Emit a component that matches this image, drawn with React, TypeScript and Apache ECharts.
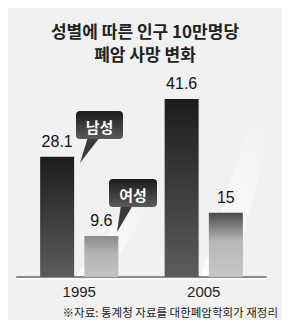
import React, { useEffect, useRef } from "react";
import * as echarts from "echarts";

const categories = ["1995", "2005"];
const maleValues = [28.1, 41.6];
const femaleValues = [9.6, 15];
const titleLines = ["성별에 따른 인구 10만명당", "폐암 사망 변화"];
const sourceText = "※자료: 통계청 자료를 대한폐암학회가 재정리";
const maleName = "남성";
const femaleName = "여성";

const LATIN = "'Liberation Sans', Arial, 'Noto Sans CJK KR', sans-serif";
const KR = "'Noto Sans CJK KR', 'Noto Sans', sans-serif";

function grad(stops: [number, string][]) {
  return new echarts.graphic.LinearGradient(
    0, 0, 0, 1,
    stops.map(([offset, color]) => ({ offset, color }))
  );
}

export default function App() {
  const ref = useRef<HTMLDivElement>(null);
  useEffect(() => {
    if (!ref.current) return;
    const chart = echarts.init(ref.current, null, { renderer: "svg" });
    const femaleColors = [
      grad([[0, "#8a8a8a"], [0.45, "#b4b4b4"], [1, "#c2c2c2"]]),
      grad([[0, "#4a4a4a"], [0.45, "#b8b8b8"], [1, "#c6c6c6"]]),
    ];
    const bubble = (
      x: number, y: number, w: number, h: number,
      tail: number[][], text: string
    ) => ({
      type: "group",
      z: 100,
      children: [
        {
          type: "polygon",
          shape: { points: tail },
          style: { fill: "#3a3a3a" },
        },
        {
          type: "rect",
          shape: { x, y, width: w, height: h, r: 4 },
          style: { fill: grad([[0, "#1c1c1c"], [1, "#5a5a5a"]]) },
        },
        {
          type: "text",
          x: x + w / 2,
          y: y + h / 2 + 1,
          style: {
            text,
            fill: "#ffffff",
            font: `bold 15px ${KR}`,
            align: "center",
            verticalAlign: "middle",
          },
        },
      ],
    });
    const titleTexts = titleLines.map((t, i) => ({
      type: "text",
      x: 145,
      y: 30 + i * 23,
      style: {
        text: t,
        font: `bold 17px ${KR}`,
        fill: "#222",
        align: "center",
        verticalAlign: "middle",
      },
    }));
    chart.setOption({
      animation: false,
      backgroundColor: "#efefef",
      grid: { left: 17, right: 24, top: 63, bottom: 51 },
      xAxis: {
        type: "category",
        data: categories,
        axisTick: { show: false },
        axisLine: { lineStyle: { color: "#8a8a8a", width: 2 } },
        axisLabel: {
          color: "#222",
          fontSize: 15,
          fontFamily: LATIN,
          margin: 7,
        },
      },
      yAxis: {
        type: "value",
        min: 0,
        max: 50,
        show: false,
        splitLine: { show: false },
      },
      series: [
        {
          type: "bar",
          name: maleName,
          data: maleValues,
          barWidth: 34,
          barGap: "30%",
          itemStyle: { color: grad([[0, "#1c1c1c"], [1, "#5c5c5c"]]) },
          label: {
            show: true,
            position: "top",
            distance: 7,
            color: "#111",
            fontSize: 16,
            fontFamily: LATIN,
          },
          z: 5,
        },
        {
          type: "bar",
          name: femaleName,
          data: femaleValues.map((v, i) => ({
            value: v,
            itemStyle: { color: femaleColors[i] },
          })),
          barWidth: 34,
          label: {
            show: true,
            position: "top",
            distance: 7,
            color: "#111",
            fontSize: 16,
            fontFamily: LATIN,
          },
          z: 5,
        },
      ],
      graphic: [
        {
          type: "rect",
          z: -10,
          shape: { x: 0, y: 0, width: 290, height: 10 },
          style: { fill: grad([[0, "#c4c4c4"], [1, "#e6e6e6"]]) },
        },
        {
          type: "rect",
          z: -9,
          shape: { x: 0, y: 4, width: 290, height: 330, r: [12, 12, 0, 0] },
          style: { fill: "#f1f1f1" },
        },
        {
          type: "polygon",
          z: -5,
          shape: { points: [[76, 277], [106, 277], [150, 205], [128, 205]] },
          style: {
            fill: new echarts.graphic.LinearGradient(0, 1, 1, 0, [
              { offset: 0, color: "rgba(255,255,255,0.95)" },
              { offset: 1, color: "rgba(255,255,255,0)" },
            ]),
          },
        },
        {
          type: "polygon",
          z: -5,
          shape: { points: [[200, 277], [232, 277], [272, 128], [248, 128]] },
          style: {
            fill: new echarts.graphic.LinearGradient(0, 1, 1, 0, [
              { offset: 0, color: "rgba(255,255,255,0.95)" },
              { offset: 1, color: "rgba(255,255,255,0)" },
            ]),
          },
        },
        {
          type: "line",
          z: -4,
          shape: { x1: 18, y1: 279, x2: 265, y2: 279 },
          style: { stroke: "#ffffff", lineWidth: 1 },
        },
        ...titleTexts,
        bubble(76, 111, 47, 28, [[88, 137], [100, 137], [80, 163]], maleName),
        bubble(109, 179, 48, 28, [[121, 205], [133, 205], [117, 232]], femaleName),
        {
          type: "text",
          x: 278,
          y: 312,
          style: {
            text: sourceText,
            font: `11.5px ${KR}`,
            fill: "#222",
            align: "right",
            verticalAlign: "middle",
          },
        },
      ],
    });
    return () => chart.dispose();
  }, []);
  return <div ref={ref} style={{ width: 290, height: 328, margin: -8 }} />;
}
